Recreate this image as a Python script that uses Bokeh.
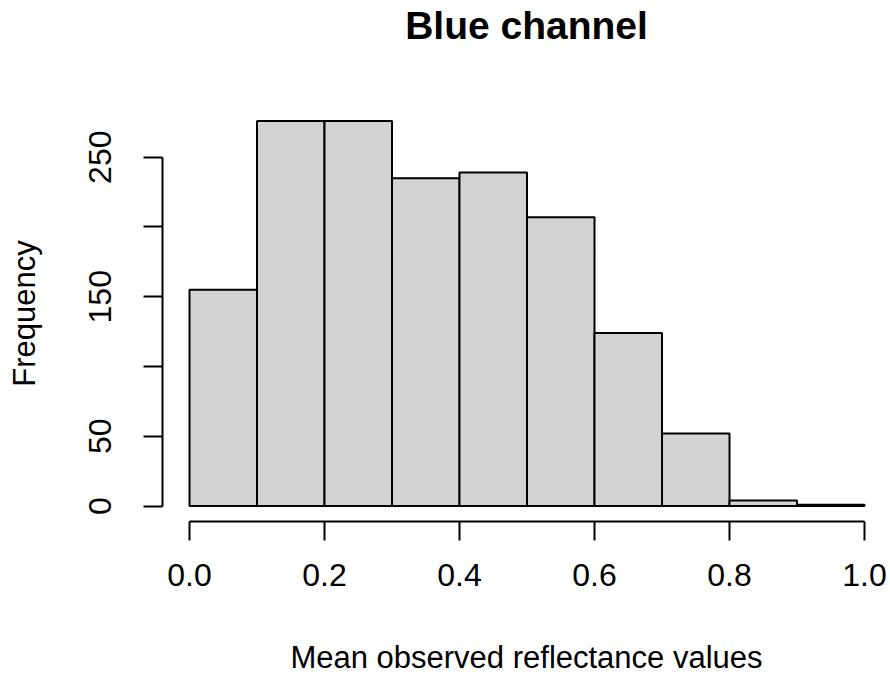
from bokeh.plotting import figure
from bokeh.models import Range1d, LinearAxis, FixedTicker, NumeralTickFormatter
from bokeh.embed import file_html
from bokeh.resources import INLINE

# Histogram data (bins of width 0.1)
bin_left = [0.0, 0.1, 0.2, 0.3, 0.4, 0.5, 0.6, 0.7, 0.8, 0.9]
bin_right = [0.1, 0.2, 0.3, 0.4, 0.5, 0.6, 0.7, 0.8, 0.9, 1.0]
counts = [155, 276, 276, 235, 239, 207, 124, 52, 4, 1]

x_ticks = [0.0, 0.2, 0.4, 0.6, 0.8, 1.0]
y_ticks = [0, 50, 100, 150, 200, 250]
y_hidden_labels = [100, 200]

title_text = "Blue channel"
x_label = "Mean observed reflectance values"
y_label = "Frequency"

FONT = "Liberation Sans"

p = figure(width=890, height=677, output_backend="svg", toolbar_location=None,
           x_range=Range1d(-0.04, 1.0385), y_range=Range1d(-11.04, 287.04),
           x_axis_type=None, y_axis_type=None,
           min_border_left=162, min_border_right=0,
           min_border_top=105, min_border_bottom=153,
           background_fill_color="white", border_fill_color="white")
p.outline_line_color = None
p.grid.visible = False

p.quad(left=bin_left, right=bin_right, bottom=0, top=counts,
       fill_color="#D3D3D3", line_color="black", line_width=2)

xaxis = LinearAxis(ticker=FixedTicker(ticks=x_ticks), bounds=(0, 1),
                   formatter=NumeralTickFormatter(format="0.0"))
yaxis = LinearAxis(ticker=FixedTicker(ticks=y_ticks), bounds=(0, 250))
yaxis.major_label_overrides = {v: "" for v in y_hidden_labels}
yaxis.major_label_orientation = "vertical"

for ax in (xaxis, yaxis):
    ax.axis_line_width = 2
    ax.axis_line_color = "black"
    ax.major_tick_line_width = 2
    ax.major_tick_line_color = "black"
    ax.major_tick_out = 19
    ax.major_tick_in = 0
    ax.minor_tick_out = 0
    ax.minor_tick_in = 0
    ax.major_label_text_font = FONT
    ax.major_label_text_font_size = "32px"
    ax.major_label_text_color = "black"
    ax.axis_label_text_font = FONT
    ax.axis_label_text_font_size = "31px"
    ax.axis_label_text_font_style = "normal"
    ax.axis_label_text_color = "black"

xaxis.axis_label = x_label
xaxis.major_label_standoff = 23
xaxis.axis_label_standoff = 51
yaxis.axis_label = y_label
yaxis.major_label_standoff = 32
yaxis.axis_label_standoff = 45

p.add_layout(xaxis, "below")
p.add_layout(yaxis, "left")

# Main title: carried by a bare axis above the plot region (no line, no ticks)
title_axis = LinearAxis(ticker=FixedTicker(ticks=[]), axis_label=title_text)
title_axis.axis_line_color = None
title_axis.major_tick_line_color = None
title_axis.minor_tick_line_color = None
title_axis.major_tick_out = 0
title_axis.major_tick_in = 0
title_axis.minor_tick_out = 0
title_axis.minor_tick_in = 0
title_axis.major_label_standoff = 0
title_axis.axis_label_standoff = 59
title_axis.axis_label_text_font = FONT
title_axis.axis_label_text_font_size = "39px"
title_axis.axis_label_text_font_style = "bold"
title_axis.axis_label_text_color = "black"
p.add_layout(title_axis, "above")

open("out.html", "w").write(file_html(p, INLINE))
